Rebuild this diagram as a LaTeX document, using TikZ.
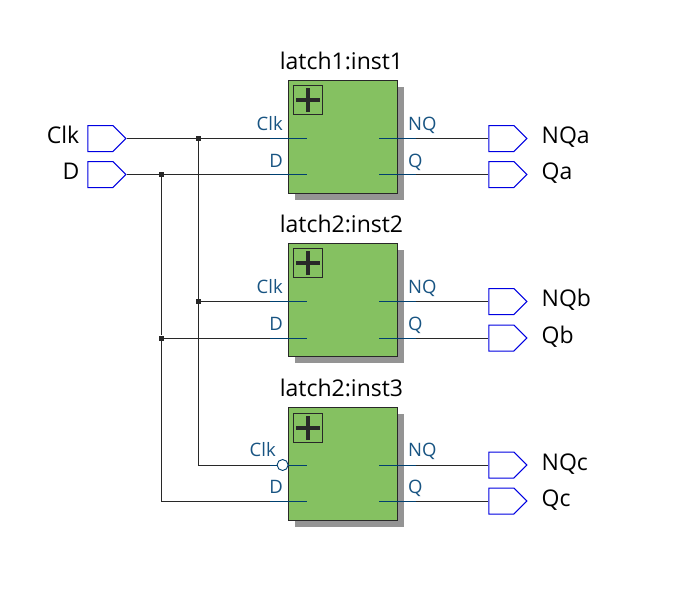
\documentclass[tikz,border=0pt]{standalone}
\usepackage{fontspec}
\setmainfont{Open Sans}
\usetikzlibrary{shapes.symbols,shadows}

\definecolor{blockgreen}{RGB}{133,193,97}
\definecolor{portblue}{RGB}{0,63,111}
\definecolor{portlabel}{RGB}{24,84,130}
\definecolor{wiregray}{RGB}{40,40,40}
\definecolor{pinblue}{RGB}{0,0,225}

\tikzset{
  block/.style={draw=wiregray,fill=blockgreen,line width=0.9pt,minimum width=109pt,minimum height=113pt,inner sep=0pt,
    drop shadow={shadow xshift=6.5pt,shadow yshift=-6.5pt,fill=black!42,opacity=1}},
  blocktitle/.style={font=\fontsize{23}{26}\selectfont,text=black,anchor=base,inner sep=0pt},
  expander/.style={draw=wiregray,line width=0.9pt,minimum size=29pt,inner sep=0pt,
    path picture={\draw[wiregray,line width=4.6pt] (path picture bounding box.center) +(-12pt,0) -- +(12pt,0) (path picture bounding box.center) +(0,-12pt) -- +(0,12pt);}},
  pin/.style={draw=pinblue,fill=white,line width=1pt,signal,signal to=east,signal pointer angle=90,minimum width=38pt,minimum height=26pt,inner sep=0pt,anchor=west},
  pinname/.style={font=\fontsize{23}{26}\selectfont,text=black,inner sep=0pt},
  portname/.style={font=\fontsize{18.5}{21}\selectfont,text=portlabel,inner sep=0pt},
  wire/.style={draw=wiregray,line width=0.9pt},
  portwire/.style={draw=portblue,line width=0.9pt},
  junction/.style={draw=none,fill=wiregray,minimum size=5pt,inner sep=0pt},
  invert/.style={circle,draw=portblue,fill=white,line width=0.9pt,minimum size=11pt,inner sep=0pt}
}

\begin{document}
\begin{tikzpicture}[x=1pt,y=-1pt]
    \useasboundingbox (0,0) rectangle (697,611);

    % blocks
    \node[block] (inst1) at (343,137) {};
    \node[blocktitle] (title1) at (341.5,69) {latch1:inst1};
    \node[expander] (plus1) at (308,100) {};

    \node[block] (inst2) at (343,300) {};
    \node[blocktitle] (title2) at (341.5,232) {latch2:inst2};
    \node[expander] (plus2) at (308,263) {};

    \node[block] (inst3) at (343,464) {};
    \node[blocktitle] (title3) at (341.5,396) {latch2:inst3};
    \node[expander] (plus3) at (308,428) {};

    % pins
    \node[pin] (clkpin) at (87.3,138.5) {};
    \node[pin] (dpin) at (87.3,174.5) {};
    \node[pinname,anchor=base east] (clkname) at (79.5,143.5) {Clk};
    \node[pinname,anchor=base east] (dname) at (79.5,179.5) {D};

    \node[pin] (nqapin) at (488.3,138.5) {};
    \node[pin] (qapin) at (488.3,174.5) {};
    \node[pin] (nqbpin) at (488.3,301.5) {};
    \node[pin] (qbpin) at (488.3,338) {};
    \node[pin] (nqcpin) at (488.3,465) {};
    \node[pin] (qcpin) at (488.3,501) {};
    \node[pinname,anchor=base west] (nqaname) at (541.5,143.5) {NQa};
    \node[pinname,anchor=base west] (qaname) at (541.5,179.5) {Qa};
    \node[pinname,anchor=base west] (nqbname) at (541.5,306.5) {NQb};
    \node[pinname,anchor=base west] (qbname) at (541.5,343) {Qb};
    \node[pinname,anchor=base west] (nqcname) at (541.5,470) {NQc};
    \node[pinname,anchor=base west] (qcname) at (541.5,506) {Qc};

    % ports
    \coordinate (clk1) at (307,138.5);
    \coordinate (d1) at (307,174.5);
    \coordinate (nq1) at (379,138.5);
    \coordinate (q1) at (379,174.5);
    \coordinate (clk2) at (307,301.5);
    \coordinate (d2) at (307,338);
    \coordinate (nq2) at (379,301.5);
    \coordinate (q2) at (379,338);
    \coordinate (clk3) at (307,465);
    \coordinate (d3) at (307,501);
    \coordinate (nq3) at (379,465);
    \coordinate (q3) at (379,501);

    % junctions
    \node[junction] (clkj1) at (198.5,138.5) {};
    \node[junction] (clkj2) at (198.5,301.5) {};
    \node[junction] (dj1) at (161.5,174.5) {};
    \node[junction] (dj2) at (161.5,338) {};

    % nets
    \draw[wire] (clkpin.east) -- (clkj1) -- (clk1);
    \draw[wire] (dpin.east) -- (dj1) -- (d1);
    \draw[wire] (clkj1) -- (clkj2) -- (clk2);
    \draw[wire] (dj1) -- (dj2) -- (d2);
    \draw[wire] (clkj2) |- (clk3);
    \draw[wire] (dj2) |- (d3);

    \draw[wire] (nq1) -- (nqapin.west);
    \draw[wire] (q1) -- (qapin.west);
    \draw[wire] (nq2) -- (nqbpin.west);
    \draw[wire] (q2) -- (qbpin.west);
    \draw[wire] (nq3) -- (nqcpin.west);
    \draw[wire] (q3) -- (qcpin.west);

    % port stubs
    \draw[portwire] ([xshift=-37pt]clk1) -- (clk1);
    \draw[portwire] ([xshift=-37pt]d1) -- (d1);
    \draw[portwire] ([xshift=-37pt]clk2) -- (clk2);
    \draw[portwire] ([xshift=-37pt]d2) -- (d2);
    \draw[portwire] ([xshift=-37pt]clk3) -- (clk3);
    \draw[portwire] ([xshift=-37pt]d3) -- (d3);
    \draw[portwire] (nq1) -- ([xshift=37pt]nq1);
    \draw[portwire] (q1) -- ([xshift=37pt]q1);
    \draw[portwire] (nq2) -- ([xshift=37pt]nq2);
    \draw[portwire] (q2) -- ([xshift=37pt]q2);
    \draw[portwire] (nq3) -- ([xshift=37pt]nq3);
    \draw[portwire] (q3) -- ([xshift=37pt]q3);

    \node[invert] (inv3) at (282.6,465) {};

    % port labels
    \node[portname,anchor=base east] (clklabel1) at (283,130) {Clk};
    \node[portname,anchor=base east] (dlabel1) at (283,167) {D};
    \node[portname,anchor=base west] (nqlabel1) at (408,130) {NQ};
    \node[portname,anchor=base west] (qlabel1) at (408,167) {Q};

    \node[portname,anchor=base east] (clklabel2) at (283,293) {Clk};
    \node[portname,anchor=base east] (dlabel2) at (283,330) {D};
    \node[portname,anchor=base west] (nqlabel2) at (408,293) {NQ};
    \node[portname,anchor=base west] (qlabel2) at (408,330) {Q};

    \node[portname,anchor=base east] (clklabel3) at (276,456.5) {Clk};
    \node[portname,anchor=base east] (dlabel3) at (283,493) {D};
    \node[portname,anchor=base west] (nqlabel3) at (408,456.5) {NQ};
    \node[portname,anchor=base west] (qlabel3) at (408,493) {Q};

  \end{tikzpicture}
\end{document}
